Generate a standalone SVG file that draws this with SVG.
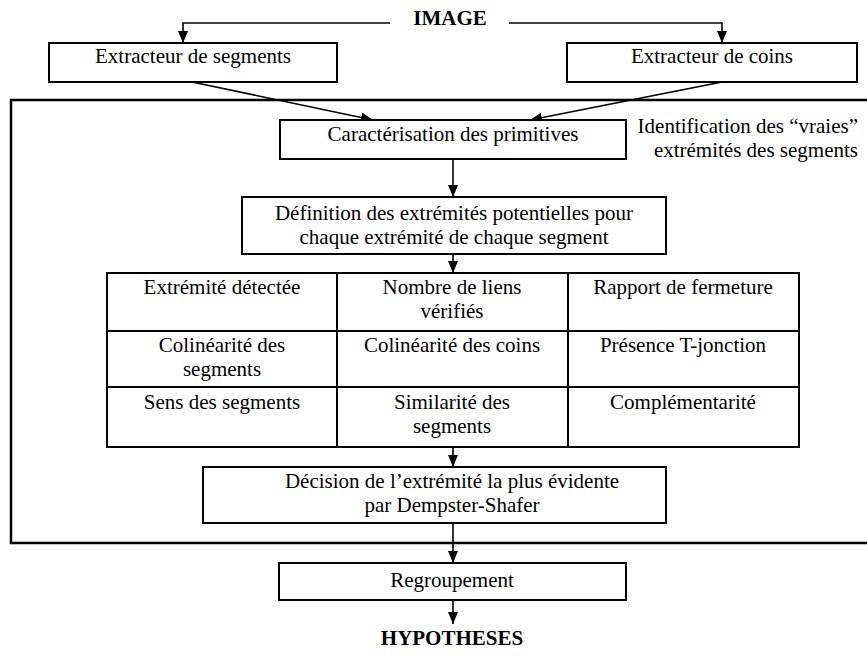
<svg xmlns="http://www.w3.org/2000/svg" width="867" height="661" viewBox="0 0 867 661">
<defs>
<marker id="ah" markerWidth="12" markerHeight="10" refX="12" refY="5" orient="auto" markerUnits="userSpaceOnUse">
<path d="M0,0 L12,5 L0,10 Z" fill="#000"/>
</marker>
<style>
text{font-family:"Liberation Serif","Times New Roman",serif;font-size:21px;fill:#000;text-anchor:middle}
.b{font-weight:bold}
.box{fill:#fff;stroke:#000;stroke-width:2}
.frame{fill:none;stroke:#000;stroke-width:2.5}
.c{fill:none;stroke:#000;stroke-width:1.6}
.g{stroke:#000;stroke-width:2}
</style>
</defs>
<rect width="867" height="661" fill="#fff"/>
<rect id="frame" class="frame" x="11" y="100" width="860" height="443"/>
<g id="connectors">
<polyline class="c" points="390,23 183,23 183,43" marker-end="url(#ah)"/>
<polyline class="c" points="509,23 722,23 722,43" marker-end="url(#ah)"/>
<line class="c" x1="192" y1="82" x2="373" y2="120" marker-end="url(#ah)"/>
<line class="c" x1="722" y1="82" x2="530" y2="120" marker-end="url(#ah)"/>
<line class="c" x1="453" y1="159" x2="453" y2="197" marker-end="url(#ah)"/>
<line class="c" x1="453" y1="254" x2="453" y2="273" marker-end="url(#ah)"/>
<line class="c" x1="453" y1="447" x2="453" y2="467" marker-end="url(#ah)"/>
<line class="c" x1="453" y1="523" x2="453" y2="563" marker-end="url(#ah)"/>
<line class="c" x1="453" y1="600" x2="453" y2="624" marker-end="url(#ah)"/>
</g>
<g id="image"><text class="b" x="450" y="25">IMAGE</text></g>
<g id="extr-seg"><rect class="box" x="49" y="43" width="288" height="39"/><text x="193" y="63">Extracteur de segments</text></g>
<g id="extr-coins"><rect class="box" x="567" y="43" width="290" height="39"/><text x="712" y="63">Extracteur de coins</text></g>
<g id="caract"><rect class="box" x="280" y="120" width="346" height="39"/><text x="453" y="141">Caractérisation des primitives</text></g>
<g id="ident"><text x="858" y="133" style="text-anchor:end">Identification des “vraies”</text><text x="858" y="157" style="text-anchor:end">extrémités des segments</text></g>
<g id="definition"><rect class="box" x="242" y="197" width="424" height="57"/><text x="454" y="220">Définition des extrémités potentielles pour</text><text x="454" y="244">chaque extrémité de chaque segment</text></g>
<g id="grid">
<rect class="box" x="107" y="273" width="692" height="174"/>
<line class="g" x1="337" y1="273" x2="337" y2="447"/>
<line class="g" x1="568" y1="273" x2="568" y2="447"/>
<line class="g" x1="107" y1="331" x2="799" y2="331"/>
<line class="g" x1="107" y1="387" x2="799" y2="387"/>
</g>
<g id="c11"><text x="222" y="294">Extrémité détectée</text></g>
<g id="c12"><text x="452" y="294">Nombre de liens</text><text x="452" y="318">vérifiés</text></g>
<g id="c13"><text x="683" y="294">Rapport de fermeture</text></g>
<g id="c21"><text x="222" y="352">Colinéarité des</text><text x="222" y="376">segments</text></g>
<g id="c22"><text x="452" y="352">Colinéarité des coins</text></g>
<g id="c23"><text x="683" y="352">Présence T-jonction</text></g>
<g id="c31"><text x="222" y="409">Sens des segments</text></g>
<g id="c32"><text x="452" y="409">Similarité des</text><text x="452" y="433">segments</text></g>
<g id="c33"><text x="683" y="409">Complémentarité</text></g>
<g id="decision"><rect class="box" x="203" y="467" width="463" height="56"/><text x="452" y="488">Décision de l’extrémité la plus évidente</text><text x="452" y="512">par Dempster-Shafer</text></g>
<g id="regroup"><rect class="box" x="279" y="563" width="347" height="37"/><text x="452" y="587">Regroupement</text></g>
<g id="hyp"><text class="b" x="452" y="645">HYPOTHESES</text></g>
</svg>
